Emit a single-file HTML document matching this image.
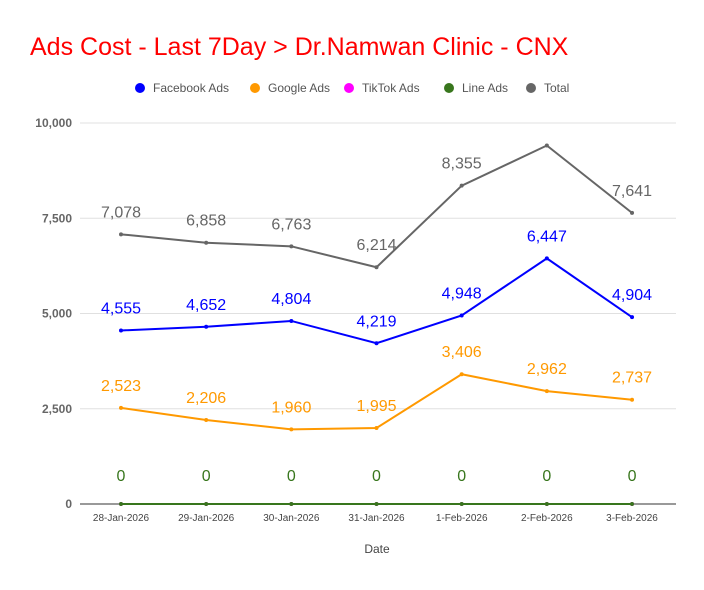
<!DOCTYPE html>
<html><head><meta charset="utf-8"><style>
body{margin:0;background:#fff;font-family:"Liberation Sans",Arial,sans-serif;}
</style></head><body>
<svg width="704" height="585" font-family="Liberation Sans, Arial, sans-serif">
<text x="30" y="55" font-size="25" fill="#ff0000">Ads Cost - Last 7Day &gt; Dr.Namwan Clinic - CNX</text>
<g id="legend"></g>
<g id="grid"></g><g id="series"></g><g id="labels"></g>
<text x="377" y="553" font-size="12" fill="#444" text-anchor="middle">Date</text>
</svg>
<script>
const categories=["28-Jan-2026","29-Jan-2026","30-Jan-2026","31-Jan-2026","1-Feb-2026","2-Feb-2026","3-Feb-2026"];
const facebook=[4555,4652,4804,4219,4948,6447,4904];
const google=[2523,2206,1960,1995,3406,2962,2737];
const tiktok=[0,0,0,0,0,0,0];
const lineAds=[0,0,0,0,0,0,0];
const total=[7078,6858,6763,6214,8355,9409,7641];
const yTicks=[0,2500,5000,7500,10000];
const NS="http://www.w3.org/2000/svg";
const x0=121,dx=85.17,yb=504,yt=123,ymax=10000;
const X=i=>x0+i*dx, Y=v=>yb-(v/ymax)*(yb-yt);
function mk(tag,attrs,parent,txt){const e=document.createElementNS(NS,tag);for(const k in attrs)e.setAttribute(k,attrs[k]);if(txt!==undefined)e.textContent=txt;parent.appendChild(e);return e;}
const fmt=v=>v.toLocaleString("en-US");
const grid=document.getElementById("grid"),ser=document.getElementById("series"),lab=document.getElementById("labels"),leg=document.getElementById("legend");
yTicks.forEach(t=>{
  const l=mk("line",{x1:80,x2:676,y1:Y(t),y2:Y(t),stroke:t===0?"#333":"#e0e0e0","stroke-width":1},grid);
  
  
  const tx=mk("text",{x:72,y:Y(t)+4,"font-size":12,"font-weight":"bold",fill:"#666","text-anchor":"end"},grid,fmt(t));
  
  
});
categories.forEach((c,i)=>{
  const t=mk("text",{x:X(i),y:521,"font-size":10,fill:"#444","text-anchor":"middle"},grid,c);
  
  
});
const series=[
 {name:"Facebook Ads",data:facebook,color:"#0000ff",lbl:true},
 {name:"Google Ads",data:google,color:"#ff9900",lbl:true},
 {name:"TikTok Ads",data:tiktok,color:"#ff00ff",lbl:false},
 {name:"Line Ads",data:lineAds,color:"#38761d",lbl:true,lblY:481},
 {name:"Total",data:total,color:"#666666",lbl:true,skip:[5]}
];
const legX=[140,255,349,449,531];
series.forEach((s,si)=>{
  const c=mk("circle",{cx:legX[si],cy:88,r:5,fill:s.color},leg);
  
  
  const t=mk("text",{x:legX[si]+13,y:92,"font-size":12,fill:"#555"},leg,s.name);
  
  
  const pts=s.data.map((v,i)=>X(i)+","+Y(v)).join(" ");
  const pl=mk("polyline",{points:pts,fill:"none",stroke:s.color,"stroke-width":2},ser);
  
  
  s.data.forEach((v,i)=>{
    const p=mk("circle",{cx:X(i),cy:Y(v),r:2,fill:s.color},ser);
    
    
    if(s.lbl&&!(s.skip||[]).includes(i)){
      const t=mk("text",{x:X(i),y:s.lblY||Y(v)-17,"font-size":16,fill:s.color,"text-anchor":"middle"},lab,fmt(v));
      
      
    }
  });
});
</script>
</body></html>
